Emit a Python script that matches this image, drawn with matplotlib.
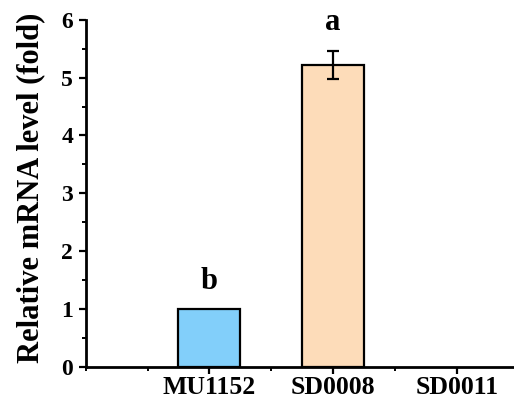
import numpy as np
import matplotlib
matplotlib.use('Agg')
import matplotlib.pyplot as plt
from matplotlib.ticker import MultipleLocator

strains = ['MU1152', 'SD0008', 'SD0011']
values = [1.0, 5.22, 0.0]
errors = [0.0, 0.25, 0.0]
letters = ['b', 'a', '']
letter_y = [1.48, 5.96, 0]
colors = ['#82CFFA', '#FDDCB9', '#FFFFFF']

plt.rcParams['font.family'] = ['Liberation Serif', 'DejaVu Serif']
plt.rcParams['font.weight'] = 'bold'

fig = plt.figure(figsize=(5.14, 3.98), dpi=100)
ax = fig.add_axes([0.1667, 0.0787, 0.8375, 0.8713])

x = np.arange(1, len(strains) + 1)
for i in range(len(strains)):
    if values[i] > 0:
        ax.bar(x[i], values[i], width=0.5, color=colors[i], edgecolor='black', linewidth=1.6, zorder=2)
    if errors[i] > 0:
        ax.errorbar(x[i], values[i], yerr=errors[i], fmt='none', ecolor='black',
                    elinewidth=1.6, capsize=4, capthick=1.6, zorder=3)
    if letters[i]:
        ax.text(x[i], letter_y[i], letters[i], ha='center', va='center', fontsize=22, fontweight='bold')

ax.set_xlim(0, 3.48)
ax.set_ylim(0, 6)
ax.set_xticks(x)
ax.set_xticklabels(strains)
ax.xaxis.set_minor_locator(MultipleLocator(0.5))
ax.yaxis.set_major_locator(MultipleLocator(1))
ax.yaxis.set_minor_locator(MultipleLocator(0.5))
ax.tick_params(axis='x', labelsize=18.5)
ax.tick_params(axis='y', labelsize=17)
ax.tick_params(which='major', length=5, width=1.6, direction='out')
ax.tick_params(which='minor', length=3, width=1.4, direction='out')
ax.tick_params(axis='x', which='both', pad=2)
ax.tick_params(axis='y', which='both', pad=4)

for s in ['top', 'right']:
    ax.spines[s].set_visible(False)
for s in ['left', 'bottom']:
    ax.spines[s].set_linewidth(2)

ax.set_ylabel('Relative mRNA level (fold)', fontsize=22, fontweight='bold')
ax.yaxis.set_label_coords(-0.095, 0.515)

fig.savefig('out.png', dpi=100)
